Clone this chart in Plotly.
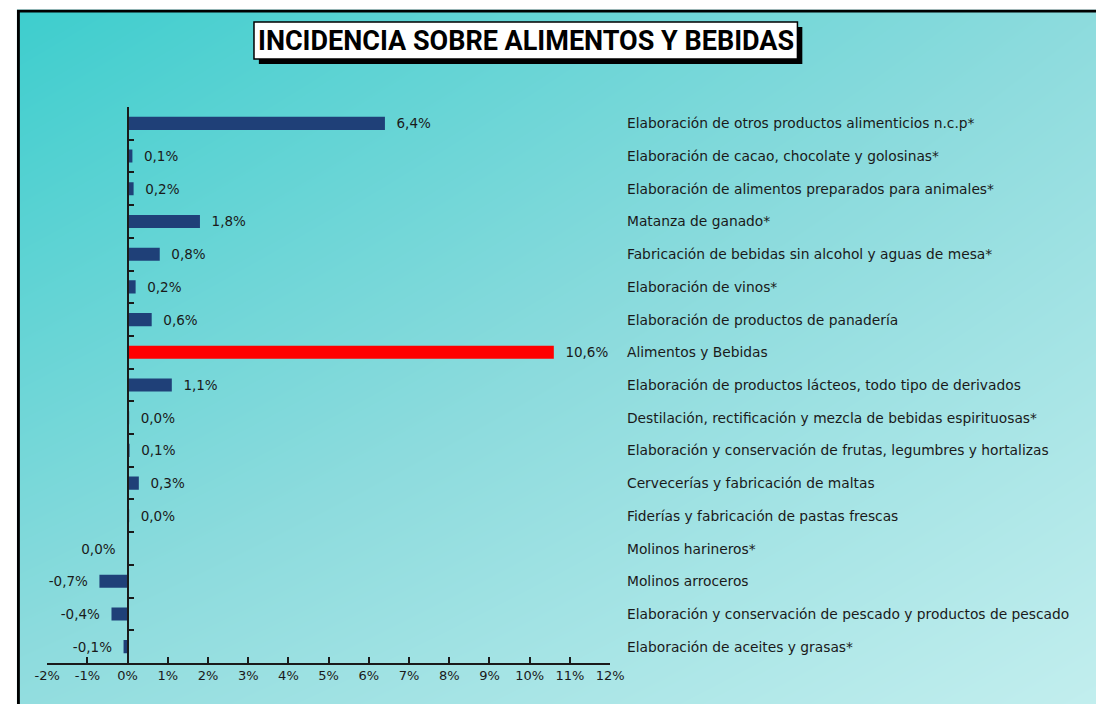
import plotly.graph_objects as go

categories = [
    "Elaboración de otros productos alimenticios n.c.p*",
    "Elaboración de cacao, chocolate y golosinas*",
    "Elaboración de alimentos preparados para animales*",
    "Matanza de ganado*",
    "Fabricación de bebidas sin alcohol y aguas de mesa*",
    "Elaboración de vinos*",
    "Elaboración de productos de panadería",
    "Alimentos y Bebidas",
    "Elaboración de productos lácteos, todo tipo de derivados",
    "Destilación, rectificación y mezcla de bebidas espirituosas*",
    "Elaboración y conservación de frutas, legumbres y hortalizas",
    "Cervecerías y fabricación de maltas",
    "Fiderías y fabricación de pastas frescas",
    "Molinos harineros*",
    "Molinos arroceros",
    "Elaboración y conservación de pescado y productos de pescado",
    "Elaboración de aceites y grasas*",
]
values = [6.4, 0.12, 0.15, 1.8, 0.8, 0.2, 0.6, 10.6, 1.1, 0.03, 0.05, 0.28, 0.03, -0.01, -0.7, -0.4, -0.1]
value_labels = ["6,4%", "0,1%", "0,2%", "1,8%", "0,8%", "0,2%", "0,6%", "10,6%", "1,1%",
                "0,0%", "0,1%", "0,3%", "0,0%", "0,0%", "-0,7%", "-0,4%", "-0,1%"]
x_tickvals = list(range(-2, 13))
x_ticktext = ["-2%", "-1%", "0%", "1%", "2%", "3%", "4%", "5%", "6%", "7%", "8%", "9%", "10%", "11%", "12%"]
title_text = "INCIDENCIA SOBRE ALIMENTOS Y BEBIDAS"
highlight = "Alimentos y Bebidas"

W, H = 1110, 704
BLUE = "#1f4078"
RED = "#ff0000"
TXT = "#1a1a1a"

bar_colors = [RED if c == highlight else BLUE for c in categories]
bar_text = [("  " + t) if v >= 0 else (t + "  ") for t, v in zip(value_labels, values)]

xd = [35 / W, 612 / W]
yd = [1 - 663 / H, 1 - 107 / H]
xmin, xmax = -2, 12
zero_pos = xd[0] + (xd[1] - xd[0]) * (0 - xmin) / (xmax - xmin)

fig = go.Figure()

# background gradient (styling only) on x/y, full paper
fig.add_trace(go.Heatmap(
    z=[[0.0, 0.55], [0.6, 1.0]], x=[0, 1], y=[1, 0],
    zsmooth="best", showscale=False, hoverinfo="skip",
    colorscale=[[0, "#3ccdcd"], [0.55, "#8cdbdd"], [1, "#c2eeee"]],
    zmin=0, zmax=1, xaxis="x", yaxis="y",
))

fig.add_trace(go.Bar(
    x=values, y=categories, orientation="h",
    marker=dict(color=bar_colors, line=dict(width=0)),
    text=bar_text, textposition="outside", cliponaxis=False,
    constraintext="none",
    textfont=dict(family="DejaVu Sans", size=13.5, color=TXT),
    width=0.4, xaxis="x2", yaxis="y2", hoverinfo="skip",
))

annotations = []
for c in categories:
    annotations.append(dict(
        x=627 / W, xref="paper", y=c, yref="y2", text=c, showarrow=False,
        xanchor="left", yanchor="middle",
        font=dict(family="DejaVu Sans", size=13.8, color=TXT),
    ))
annotations.append(dict(
    x=(247 + 804) / 2 / W, xref="paper", y=1 - 41 / H, yref="paper",
    text="<b>" + title_text + "</b>", showarrow=False,
    xanchor="center", yanchor="middle",
    font=dict(family="Roboto", size=27, color="#000000"),
))

shapes = [
    # title shadow and box
    dict(type="rect", xref="paper", yref="paper",
         x0=252 / W, x1=809 / W, y0=1 - 64 / H, y1=1 - 27 / H,
         fillcolor="#000000", line=dict(width=0)),
    dict(type="rect", xref="paper", yref="paper",
         x0=247 / W, x1=804 / W, y0=1 - 59 / H, y1=1 - 22 / H,
         fillcolor="#ffffff", line=dict(color="#000000", width=1.5)),
    # frame border
    dict(type="line", xref="paper", yref="paper",
         x0=5.5 / W, x1=5.5 / W, y0=0, y1=1 - 10 / H,
         line=dict(color="#000000", width=3)),
    dict(type="line", xref="paper", yref="paper",
         x0=4 / W, x1=1, y0=1 - 11 / H, y1=1 - 11 / H,
         line=dict(color="#000000", width=3)),
    # white outside the frame
    dict(type="rect", xref="paper", yref="paper",
         x0=0, x1=4 / W, y0=0, y1=1, fillcolor="#ffffff", line=dict(width=0)),
    dict(type="rect", xref="paper", yref="paper",
         x0=0, x1=1, y0=1 - 9.5 / H, y1=1, fillcolor="#ffffff", line=dict(width=0)),
]

fig.update_layout(
    width=W, height=H,
    margin=dict(l=0, r=0, t=0, b=0),
    paper_bgcolor="#ffffff",
    plot_bgcolor="rgba(0,0,0,0)",
    showlegend=False,
    xaxis=dict(domain=[0, 1], range=[0, 1], visible=False, anchor="y", fixedrange=True),
    yaxis=dict(domain=[0, 1], range=[0, 1], visible=False, anchor="x", fixedrange=True),
    xaxis2=dict(
        domain=xd, range=[xmin, xmax], anchor="y2",
        tickvals=x_tickvals, ticktext=x_ticktext,
        ticks="inside", ticklen=6, tickwidth=1.5, tickcolor=TXT,
        showline=True, linecolor=TXT, linewidth=1.5,
        showgrid=False, zeroline=False,
        tickfont=dict(family="DejaVu Sans", size=13, color=TXT),
    ),
    yaxis2=dict(
        domain=yd, range=[16.5, -0.5], type="category",
        anchor="free", position=zero_pos,
        categoryorder="array", categoryarray=categories,
        ticks="inside", ticklen=6, tickwidth=1.5, tickcolor=TXT,
        tickson="boundaries",
        showline=True, linecolor=TXT, linewidth=1.5,
        showticklabels=False, showgrid=False, zeroline=False,
    ),
    annotations=annotations,
    shapes=shapes,
)

fig.write_html(
    "out.html",
    config={"displayModeBar": False},
    post_script="document.body.style.margin='0';",
)
